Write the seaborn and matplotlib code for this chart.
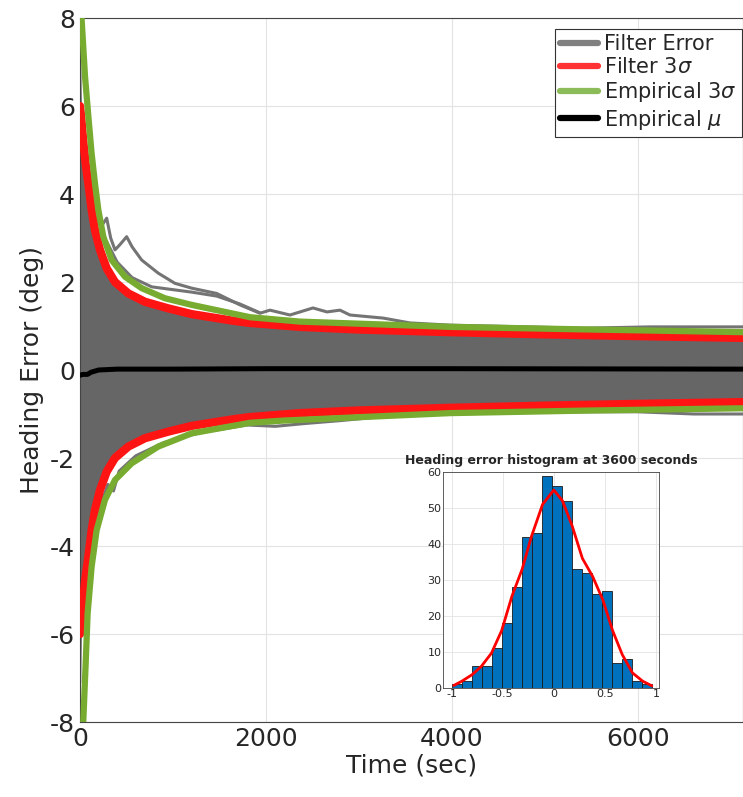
import numpy as np
import matplotlib
matplotlib.use("Agg")
import matplotlib.pyplot as plt
import seaborn as sns

# ---- data ----
# filter 3 sigma (symmetric about zero)
sig_t = [0, 15, 35, 60, 90, 125, 161, 215, 287, 376, 520, 699, 950, 1201, 1645, 1828, 2366, 3000, 3978, 5000, 6000, 7130]
sig_y = [6.0, 5.7, 5.2, 4.7, 4.24, 3.64, 3.18, 2.73, 2.31, 2.0, 1.74, 1.55, 1.40, 1.27, 1.12, 1.07, 0.98, 0.92, 0.86, 0.81, 0.77, 0.73]

# dense band of filter errors (upper / lower envelope)
band_t = [0, 8, 15, 35, 60, 90, 125, 161, 215, 287, 376, 520, 699, 950, 1201, 1645, 2366, 3978, 5000, 7130]
band_hi = [7.1, 7.1, 6.0, 5.2, 4.7, 4.24, 3.64, 3.18, 2.73, 2.31, 2.0, 1.74, 1.55, 1.40, 1.27, 1.12, 0.98, 0.86, 0.81, 0.75]
band_lo = [-7.1, -7.1, -6.0, -5.2, -4.7, -4.24, -3.64, -3.18, -2.73, -2.31, -2.0, -1.74, -1.55, -1.40, -1.27, -1.12, -0.98, -0.86, -0.81, -0.75]

# individual error runs that leave the band
run_a_t = [200, 240, 287, 330, 376, 430, 502, 560, 663, 842, 1021, 1201, 1470, 1720, 1935, 2043, 2258, 2505, 2656, 2796, 2903, 3260, 3548, 3978, 5409, 6129, 7130]
run_a_y = [3.4, 3.3, 3.45, 3.0, 2.73, 2.85, 3.03, 2.8, 2.5, 2.2, 1.97, 1.86, 1.74, 1.48, 1.29, 1.36, 1.25, 1.41, 1.32, 1.36, 1.25, 1.18, 1.07, 1.02, 0.95, 0.98, 0.98]
run_b_t = [290, 400, 560, 771, 1021, 1201, 1470, 1720, 1935]
run_b_y = [2.9, 2.45, 2.1, 1.89, 1.82, 1.77, 1.68, 1.5, 1.3]
run_c_t = [100, 200, 300, 360, 420, 600, 900, 1300, 1800, 2100, 2400, 2800, 3300, 4000, 5000, 6000, 6600, 7130]
run_c_y = [-4.3, -3.2, -2.6, -2.75, -2.3, -1.95, -1.65, -1.42, -1.25, -1.28, -1.22, -1.15, -1.05, -1.0, -0.95, -0.95, -1.0, -1.0]

# empirical 3 sigma
emp_hi_t = [0, 18, 54, 90, 125, 161, 197, 251, 340, 484, 663, 914, 1201, 1828, 2366, 3978, 5500, 7130]
emp_hi_y = [9.0, 7.95, 6.67, 5.76, 4.92, 4.24, 3.64, 3.03, 2.5, 2.12, 1.86, 1.63, 1.48, 1.2, 1.1, 0.98, 0.92, 0.86]
emp_lo_t = [0, 36, 61, 82, 125, 179, 269, 376, 556, 842, 1201, 1828, 2183, 3978, 5500, 7130]
emp_lo_y = [-9.5, -7.95, -6.67, -5.53, -4.47, -3.64, -2.95, -2.5, -2.12, -1.74, -1.44, -1.2, -1.15, -0.98, -0.92, -0.87]

# empirical mean
mu_t = [0, 30, 80, 120, 200, 400, 1000, 2000, 4000, 7130]
mu_y = [-0.12, -0.1, -0.1, -0.05, 0.0, 0.02, 0.02, 0.03, 0.03, 0.02]

# histogram at 3600 s
hist_edges = [-1.0 + 0.098 * i for i in range(21)]
hist_counts = [1, 2, 6, 6, 11, 18, 28, 42, 43, 59, 56, 52, 33, 32, 26, 27, 7, 8, 2, 1]
fit_x = [-0.98, -0.9, -0.8, -0.71, -0.61, -0.51, -0.41, -0.31, -0.22, -0.11, 0.0, 0.085, 0.18, 0.28, 0.38, 0.48, 0.575, 0.67, 0.77, 0.87, 0.96]
fit_y = [0.7, 1.9, 3.7, 6.0, 9.7, 16, 25.5, 33, 42, 51, 55, 52, 45, 36, 31, 24.5, 16, 9.3, 4.2, 1.9, 0.6]

GREY = "#666666"
RED = "#ff1414"
GREEN = "#77ac30"
TXT = "#262626"

sns.set_theme(style="whitegrid")
plt.rcParams["font.family"] = ["DejaVu Sans"]
plt.rcParams["mathtext.fontset"] = "dejavusans"
plt.rcParams["axes.unicode_minus"] = False

fig = plt.figure(figsize=(7.43, 7.97), dpi=100)
ax = fig.add_axes([80 / 743, 75 / 797, 663 / 743, 704 / 797])
ax.set_facecolor("white")

ax.fill_between(band_t, band_lo, band_hi, color=GREY, lw=0, zorder=2)
for tt, yy in [(run_a_t, run_a_y), (run_b_t, run_b_y), (run_c_t, run_c_y)]:
    sns.lineplot(x=tt, y=yy, ax=ax, color="#747474", lw=2.2, zorder=2.5)

sig = np.array(sig_y)
sns.lineplot(x=sig_t, y=sig, ax=ax, color=RED, lw=6, zorder=3)
sns.lineplot(x=sig_t, y=-sig, ax=ax, color=RED, lw=6, zorder=3)
sns.lineplot(x=emp_hi_t, y=emp_hi_y, ax=ax, color=GREEN, lw=4.5, zorder=3.5)
sns.lineplot(x=emp_lo_t, y=emp_lo_y, ax=ax, color=GREEN, lw=4.5, zorder=3.5)
sns.lineplot(x=mu_t, y=mu_y, ax=ax, color="black", lw=3.6, zorder=4)

ax.set_xlim(0, 7130)
ax.set_ylim(-8, 8)
ax.set_xticks([0, 2000, 4000, 6000])
ax.set_yticks(range(-8, 9, 2))
ax.tick_params(labelsize=18, colors=TXT, direction="in", length=4)
ax.set_xlabel("Time (sec)", fontsize=18, color=TXT, labelpad=2)
ax.set_ylabel("Heading Error (deg)", fontsize=18, color=TXT, labelpad=4)
ax.grid(True, color="#e3e3e3", lw=0.8)
for s in ax.spines.values():
    s.set_color("#444444")
    s.set_linewidth(0.8)

handles = [
    plt.Line2D([], [], color="#808080", lw=4.5),
    plt.Line2D([], [], color="#ff3333", lw=4.5),
    plt.Line2D([], [], color="#8cbc5a", lw=4.5),
    plt.Line2D([], [], color="black", lw=4.5),
]
labels = ["Filter Error", r"Filter 3$\sigma$", r"Empirical 3$\sigma$", r"Empirical $\mu$"]
leg = ax.legend(handles, labels, loc="upper right", bbox_to_anchor=(742 / 743, 1 - 29 / 797),
                bbox_transform=fig.transFigure, fontsize=15, frameon=True, fancybox=False,
                framealpha=1, edgecolor="#333333", handlelength=1.8, handletextpad=0.3,
                labelspacing=0.15, borderpad=0.25, borderaxespad=0)
leg.get_frame().set_linewidth(0.8)
leg.set_zorder(10)

# inset histogram
ins = fig.add_axes([443 / 743, 109 / 797, 216 / 743, 216 / 797])
ins.set_facecolor("white")
centers = [(hist_edges[i] + hist_edges[i + 1]) / 2 for i in range(len(hist_counts))]
sns.histplot(x=centers, weights=hist_counts, bins=hist_edges, ax=ins, color="#0072bd",
             alpha=1, edgecolor="#1a1a1a", linewidth=0.6, zorder=2)
sns.lineplot(x=fit_x, y=fit_y, ax=ins, color="red", lw=2, zorder=3)
ins.set_xlim(-1.085, 1.03)
ins.set_ylim(0, 60)
ins.set_xticks([-1, -0.5, 0, 0.5, 1])
ins.set_xticklabels(["-1", "-0.5", "0", "0.5", "1"])
ins.set_yticks(range(0, 61, 10))
ins.set_xlabel("")
ins.set_ylabel("")
ins.tick_params(labelsize=8, colors=TXT, direction="in", length=2, pad=1)
ins.grid(True, color="#e3e3e3", lw=0.6)
ins.set_axisbelow(True)
for s in ins.spines.values():
    s.set_color("#444444")
    s.set_linewidth(0.6)
ins.set_title("Heading error histogram at 3600 seconds", fontsize=9, fontweight="bold", pad=6)

fig.savefig("out.png", dpi=100)
